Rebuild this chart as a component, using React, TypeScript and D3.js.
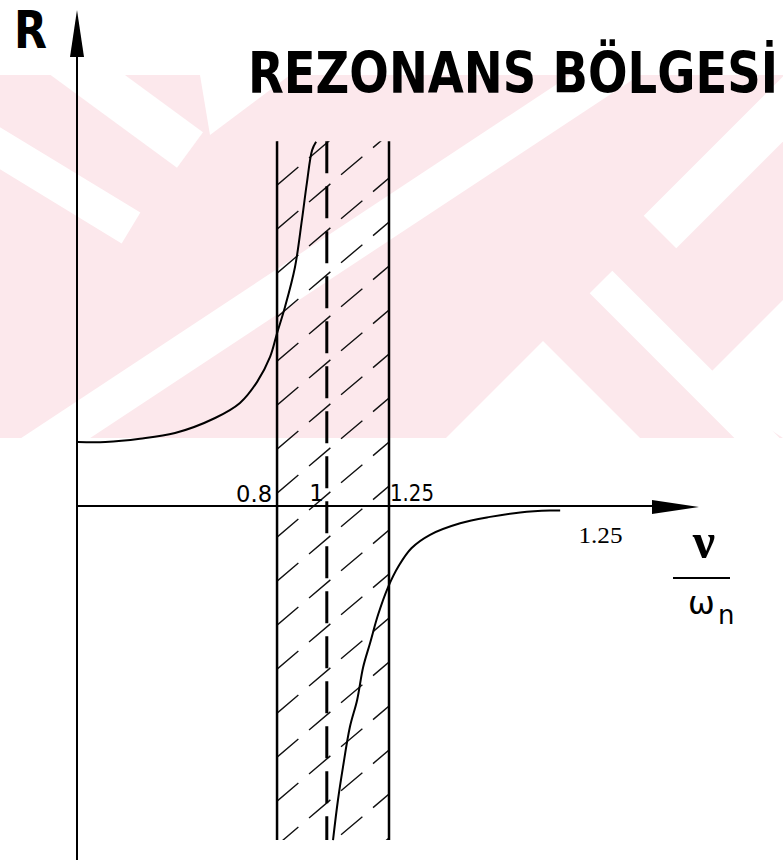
import React from "react";
import * as d3 from "d3";

// Frequency ratio ν/ωn and response R read along the two branches
const belowRatio = [0, 0.11, 0.249, 0.39, 0.551, 0.651, 0.72, 0.772, 0.8, 0.832, 0.872, 0.9, 0.92, 0.941, 0.957];
const belowResponse = [1.0, 1.0, 1.05, 1.14, 1.375, 1.61, 1.94, 2.33, 2.7, 3.11, 3.73, 4.47, 5.05, 5.56, 5.69];
const aboveRatio = [1.025, 1.045, 1.065, 1.093, 1.122, 1.146, 1.174, 1.206, 1.246, 1.29, 1.34, 1.415, 1.536, 1.656, 1.777, 1.897, 1.938];
const aboveResponse = [-5.22, -4.59, -4.08, -3.45, -3.03, -2.52, -2.14, -1.7, -1.27, -0.93, -0.66, -0.45, -0.27, -0.17, -0.1, -0.07, -0.07];

// Resonance band limits and the natural frequency
const bandLimits = [0.8, 1.25];
const naturalRatio = 1;
const tickValues = [0.8, 1, 1.25];
const tickLabels = ["0.8", "1", "1.25"];
const farTickValue = 2.1;
const farTickLabel = "1.25";
const bandTop = 5.7;
const bandBottom = -5.22;

const W = 783;
const H = 863;

const x = d3.scaleLinear().domain([0, 1.25]).range([78, 389]);
const y = d3.scaleLinear().domain([-1, 1]).range([570, 442]);

const line = d3
  .line<[number, number]>()
  .x((d) => x(d[0]))
  .y((d) => y(d[1]))
  .curve(d3.curveCatmullRom.alpha(0.5));

const below = belowRatio.map((r, i) => [r, belowResponse[i]] as [number, number]);
const above = aboveRatio.map((r, i) => [r, aboveResponse[i]] as [number, number]);

// background emblem: white bands cut out of a pale pink panel
function band(p1: [number, number], p2: [number, number], w: number) {
  const dx = p2[0] - p1[0];
  const dy = p2[1] - p1[1];
  const len = Math.hypot(dx, dy);
  const nx = (-dy / len) * (w / 2);
  const ny = (dx / len) * (w / 2);
  return [
    [p1[0] + nx, p1[1] + ny],
    [p2[0] + nx, p2[1] + ny],
    [p2[0] - nx, p2[1] - ny],
    [p1[0] - nx, p1[1] - ny],
  ]
    .map((p) => p.join(","))
    .join(" ");
}
const emblemCuts = [
  band([-30, 130], [131, 228], 36),
  band([40, 40], [190, 150], 44),
  "200,75 290,75 210,135",
  band([640, 52], [30, 455], 38),
  "446,438 543,341 640,438",
  band([601, 282], [800, 481], 32),
  band([660, 232], [840, 52], 46),
  "783,300 700,383 783,438",
];

export default function App() {
  const xL = x(bandLimits[0]);
  const xR = x(bandLimits[1]);
  const xN = x(naturalRatio);
  const yT = y(bandTop);
  const yB = y(bandBottom);
  const y0 = y(0);

  const slope = 0.85;
  const hatch: number[] = [];
  for (let v = yT; v < yB + 110; v += 44) hatch.push(v);

  return (
    <svg
      width={W}
      height={H}
      viewBox={`0 0 ${W} ${H}`}
      style={{ position: "absolute", left: 0, top: 0, background: "#fff" }}
    >
      <defs>
        <clipPath id="emblem">
          <rect x={0} y={75} width={W} height={363} />
        </clipPath>
        <clipPath id="band">
          <rect x={xL} y={yT} width={xR - xL} height={yB - yT} />
        </clipPath>
      </defs>

      <g clipPath="url(#emblem)">
        <rect x={0} y={75} width={W} height={363} fill="#fce8ec" />
        {emblemCuts.map((pts, i) => (
          <polygon key={i} points={pts} fill="#fff" />
        ))}
      </g>

      {/* hatching of the resonance band */}
      <g clipPath="url(#band)" stroke="#111" strokeWidth={1.4} strokeDasharray="28 14">
        {hatch.map((v, i) => (
          <line key={i} x1={xL} y1={v} x2={xR} y2={v - slope * (xR - xL)} />
        ))}
      </g>

      {/* band limits and natural frequency */}
      <line x1={xL} y1={yT} x2={xL} y2={yB} stroke="#000" strokeWidth={2.5} />
      <line x1={xR} y1={yT} x2={xR} y2={yB} stroke="#000" strokeWidth={2.5} />
      <line x1={xN} y1={yT} x2={xN} y2={yB} stroke="#000" strokeWidth={3} strokeDasharray="32 13" />

      {/* axes */}
      <line x1={77} y1={50} x2={77} y2={860} stroke="#000" strokeWidth={2} />
      <polygon points="77,10 70,57 84,57" fill="#000" />
      <line x1={77} y1={y0} x2={660} y2={y0} stroke="#000" strokeWidth={2} />
      <polygon points="652,500 699,507 652,514" fill="#000" />

      {/* response branches */}
      <path d={line(below) ?? ""} fill="none" stroke="#000" strokeWidth={2} />
      <path d={line(above) ?? ""} fill="none" stroke="#000" strokeWidth={2} />

      {/* tick labels */}
      <g fontFamily="DejaVu Sans" fontSize={23} fill="#000">
        <text x={x(tickValues[0]) - 5} y={502} textAnchor="end" textLength={36} lengthAdjust="spacingAndGlyphs">
          {tickLabels[0]}
        </text>
        <text x={x(tickValues[1]) - 3} y={501} textAnchor="end">
          {tickLabels[1]}
        </text>
        <text x={x(tickValues[2]) + 1} y={501} textLength={44} lengthAdjust="spacingAndGlyphs">
          {tickLabels[2]}
        </text>
      </g>
      <text
        x={x(farTickValue) - 22}
        y={543}
        fontFamily="Liberation Serif"
        fontSize={23}
        textLength={44}
        lengthAdjust="spacingAndGlyphs"
      >
        {farTickLabel}
      </text>

      {/* axis titles */}
      <text x={14} y={48} fontFamily="DejaVu Sans" fontWeight="bold" fontSize={52} textLength={33} lengthAdjust="spacingAndGlyphs">
        R
      </text>
      <text
        x={248}
        y={93}
        fontFamily="DejaVu Sans"
        fontWeight="bold"
        fontSize={57}
        textLength={530}
        lengthAdjust="spacingAndGlyphs"
      >
        REZONANS BÖLGESİ
      </text>

      <text x={704} y={558} textAnchor="middle" fontFamily="Liberation Serif" fontWeight="bold" fontSize={50}>
        ν
      </text>
      <line x1={673} y1={578} x2={730} y2={578} stroke="#000" strokeWidth={2} />
      <text x={688} y={614} fontFamily="DejaVu Sans" fontSize={32}>
        ω
      </text>
      <text x={718} y={624} fontFamily="DejaVu Sans" fontSize={26}>
        n
      </text>
    </svg>
  );
}
